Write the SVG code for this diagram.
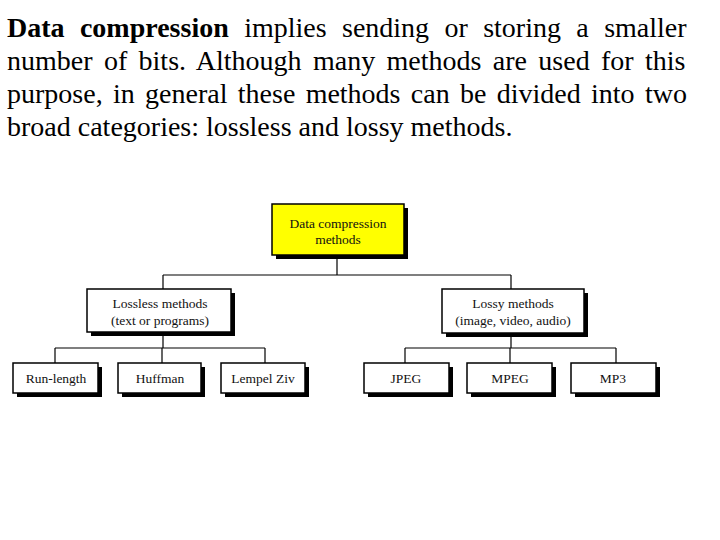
<svg xmlns="http://www.w3.org/2000/svg" width="720" height="540" viewBox="0 0 720 540">
<style>
.para{font-family:"Liberation Serif","Times New Roman",serif;font-size:28px;fill:#000}
.lbl{font-family:"Liberation Serif","Times New Roman",serif;font-size:13.5px;fill:#111;text-anchor:middle}
.box{fill:#fff;stroke:#000;stroke-width:1.5}
.yel{fill:#ffff00;stroke:#000;stroke-width:1.5}
.sh{fill:#000}
.conn{fill:none;stroke:#000;stroke-width:1.2}
</style>
<rect width="720" height="540" fill="#fff"/>
<g id="paragraph">
<text class="para" x="7" y="37" word-spacing="8.39"><tspan font-weight="bold">Data compression</tspan> implies sending or storing a smaller</text>
<text class="para" x="7" y="70" word-spacing="4.36">number of bits. Although many methods are used for this</text>
<text class="para" x="7" y="103" word-spacing="3.32">purpose, in general these methods can be divided into two</text>
<text class="para" x="7" y="136">broad categories: lossless and lossy methods.</text>
</g>
<g id="connectors">
<path class="conn" d="M337 255V275M163 275H511M163 275V289M511 275V289"/>
<path class="conn" d="M163 332V348M55 348H265M55 348V363M162 348V363M265 348V363"/>
<path class="conn" d="M511 333V348M405 348H616M405 348V363M510 348V363M616 348V363"/>
</g>
<g id="root">
<rect class="sh" x="276" y="208" width="132" height="51"/>
<rect class="yel" x="272" y="204" width="132" height="51"/>
<text class="lbl" x="338" y="228">Data compression</text>
<text class="lbl" x="338" y="244">methods</text>
</g>
<g id="lossless">
<rect class="sh" x="91" y="293" width="144" height="43"/>
<rect class="box" x="87" y="289" width="144" height="43"/>
<text class="lbl" x="160" y="308">Lossless methods</text>
<text class="lbl" x="160" y="325">(text or programs)</text>
</g>
<g id="lossy">
<rect class="sh" x="446" y="293" width="142" height="44"/>
<rect class="box" x="442" y="289" width="142" height="44"/>
<text class="lbl" x="513" y="308">Lossy methods</text>
<text class="lbl" x="513" y="325">(image, video, audio)</text>
</g>
<g id="runlength">
<rect class="sh" x="17" y="367" width="85" height="30"/>
<rect class="box" x="13" y="363" width="85" height="30"/>
<text class="lbl" x="56" y="383">Run-length</text>
</g>
<g id="huffman">
<rect class="sh" x="122" y="367" width="83" height="30"/>
<rect class="box" x="118" y="363" width="83" height="30"/>
<text class="lbl" x="160" y="383">Huffman</text>
</g>
<g id="lempelziv">
<rect class="sh" x="225" y="367" width="84" height="30"/>
<rect class="box" x="221" y="363" width="84" height="30"/>
<text class="lbl" x="263" y="383">Lempel Ziv</text>
</g>
<g id="jpeg">
<rect class="sh" x="368" y="367" width="85" height="30"/>
<rect class="box" x="364" y="363" width="85" height="30"/>
<text class="lbl" x="406" y="383">JPEG</text>
</g>
<g id="mpeg">
<rect class="sh" x="471" y="367" width="85" height="30"/>
<rect class="box" x="467" y="363" width="85" height="30"/>
<text class="lbl" x="510" y="383">MPEG</text>
</g>
<g id="mp3">
<rect class="sh" x="575" y="367" width="85" height="30"/>
<rect class="box" x="571" y="363" width="85" height="30"/>
<text class="lbl" x="613" y="383">MP3</text>
</g>
</svg>
